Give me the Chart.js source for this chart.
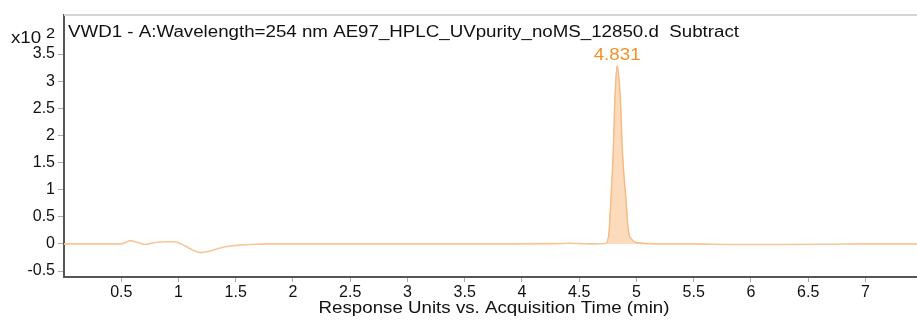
<!DOCTYPE html>
<html>
<head>
<meta charset="utf-8">
<script src="https://cdn.jsdelivr.net/npm/chart.js@4/dist/chart.umd.min.js"></script>
<style>
  html, body { margin: 0; padding: 0; background: #fff; }
  #wrap { width: 917px; height: 321px; }
</style>
</head>
<body>
<div id="wrap"><canvas id="uvChart" width="917" height="321"></canvas></div>
<script>
// Acquisition time (min) and detector response (x10^2)
const times = [
    0.0, 0.3, 0.5, 0.52, 0.56, 0.58, 0.62, 0.67, 0.71, 0.76, 0.82, 0.88, 0.95, 1.0,
    1.06, 1.12, 1.19, 1.26, 1.34, 1.45, 1.55, 1.65, 1.8, 2.2, 3.0, 3.8, 4.3, 4.42,
    4.52, 4.65, 4.70, 4.742, 4.762, 4.777, 4.798, 4.812, 4.831, 4.859, 4.876, 4.908,
    4.929, 4.96, 4.99, 5.10, 5.2, 5.5, 5.85, 6.3, 6.7, 7.0, 7.45
];
const response = [
    0.0, 0.0, 0.0, 0.01, 0.05, 0.06, 0.04, 0.01, -0.01, 0.01, 0.03, 0.04, 0.04, 0.02,
    -0.04, -0.11, -0.16, -0.14, -0.09, -0.04, -0.02, -0.01, 0.0, 0.0, 0.0, 0.0, 0.005, 0.012,
    0.005, 0.0, 0.003, 0.02, 0.24, 0.80, 1.72, 2.65, 3.28, 2.65, 1.72, 0.80,
    0.24, 0.08, 0.03, 0.005, 0.0, 0.0, -0.01, -0.01, -0.005, 0.0, 0.0
];

// Integrated peak window and its label
const peakStart = 4.72;
const peakEnd = 5.10;
const peakLabel = '4.831';

const xTickValues = [0.5, 1, 1.5, 2, 2.5, 3, 3.5, 4, 4.5, 5, 5.5, 6, 6.5, 7];
const yTickValues = [-0.5, 0, 0.5, 1, 1.5, 2, 2.5, 3, 3.5];

const traceTitle = 'VWD1 - A:Wavelength=254 nm AE97_HPLC_UVpurity_noMS_12850.d  Subtract';
const axisTitle = 'Response Units vs. Acquisition Time (min)';

const FONT = '"Liberation Sans", Arial, sans-serif';

const tracePoints = times.map((t, i) => ({ x: t, y: response[i] }));
const peakPoints = tracePoints.filter(p => p.x >= peakStart && p.x <= peakEnd);

// the export uses a slightly wide face, so text is stretched sideways
const TEXT_STRETCH = 1.17;

function stretchText(ctx, text, x, y, align) {
    const w = ctx.measureText(text).width * TEXT_STRETCH;
    let left = x;
    if (align === 'center') left = x - w / 2;
    ctx.save();
    ctx.translate(left, y);
    ctx.scale(TEXT_STRETCH, 1);
    ctx.textAlign = 'left';
    ctx.fillText(text, 0, 0);
    ctx.restore();
}

// Frame, headings, multiplier and peak annotation
const decorPlugin = {
    id: 'decor',
    afterDraw(chart) {
        const ctx = chart.ctx;
        const area = chart.chartArea;
        ctx.save();

        // light top border
        ctx.strokeStyle = '#d4d4d4';
        ctx.lineWidth = 2;
        ctx.beginPath();
        ctx.moveTo(area.left, area.top);
        ctx.lineTo(area.right, area.top);
        ctx.stroke();

        ctx.fillStyle = '#111';
        ctx.textBaseline = 'middle';
        ctx.font = '16px ' + FONT;
        stretchText(ctx, traceTitle, 68, 33, 'left');

        // axis multiplier
        ctx.font = '16px ' + FONT;
        stretchText(ctx, 'x10', 11, 39, 'left');
        ctx.font = '14px ' + FONT;
        stretchText(ctx, '2', 46, 34, 'left');

        ctx.font = '16px ' + FONT;
        stretchText(ctx, axisTitle, 494, 309, 'center');

        // peak retention time label
        const xs = chart.scales.x;
        const ys = chart.scales.y;
        let top = peakPoints[0];
        peakPoints.forEach(p => { if (p.y > top.y) top = p; });
        ctx.fillStyle = '#f2902a';
        ctx.textBaseline = 'bottom';
        stretchText(ctx, peakLabel, xs.getPixelForValue(top.x), ys.getPixelForValue(top.y) - 2, 'center');

        ctx.restore();
    }
};

new Chart(document.getElementById('uvChart'), {
    type: 'line',
    data: {
        datasets: [
            {
                label: 'Peak',
                data: peakPoints,
                borderColor: 'rgba(245, 180, 120, 0.9)',
                backgroundColor: 'rgba(251, 215, 180, 0.9)',
                borderWidth: 1,
                fill: 'origin',
                pointRadius: 0,
                cubicInterpolationMode: 'monotone'
            },
            {
                label: 'VWD1',
                data: tracePoints,
                borderColor: '#f8c596',
                borderWidth: 1.6,
                fill: false,
                pointRadius: 0,
                cubicInterpolationMode: 'monotone'
            }
        ]
    },
    options: {
        responsive: false,
        animation: false,
        layout: { padding: { top: 15, right: 0, bottom: 0, left: 0 } },
        plugins: {
            legend: { display: false },
            tooltip: { enabled: false }
        },
        scales: {
            x: {
                type: 'linear',
                min: 0,
                max: 7.45,
                afterFit: scale => { scale.height = 44; },
                afterBuildTicks: scale => { scale.ticks = xTickValues.map(v => ({ value: v })); },
                grid: { drawOnChartArea: false, tickLength: 5, color: '#aaa' },
                border: { display: true, color: '#555', width: 2 },
                ticks: {
                    color: '#111',
                    padding: 1,
                    maxRotation: 0,
                    font: { family: FONT, size: 16 },
                    callback: v => String(v)
                }
            },
            y: {
                min: -0.61,
                max: 4.22,
                afterFit: scale => { scale.width = 64; },
                afterBuildTicks: scale => { scale.ticks = yTickValues.map(v => ({ value: v })); },
                grid: { drawOnChartArea: false, tickLength: 6, color: '#aaa' },
                border: { display: true, color: '#555', width: 2 },
                ticks: {
                    color: '#111',
                    padding: 3,
                    font: { family: FONT, size: 16 },
                    callback: v => String(v)
                }
            }
        }
    },
    plugins: [decorPlugin]
});
</script>
</body>
</html>
